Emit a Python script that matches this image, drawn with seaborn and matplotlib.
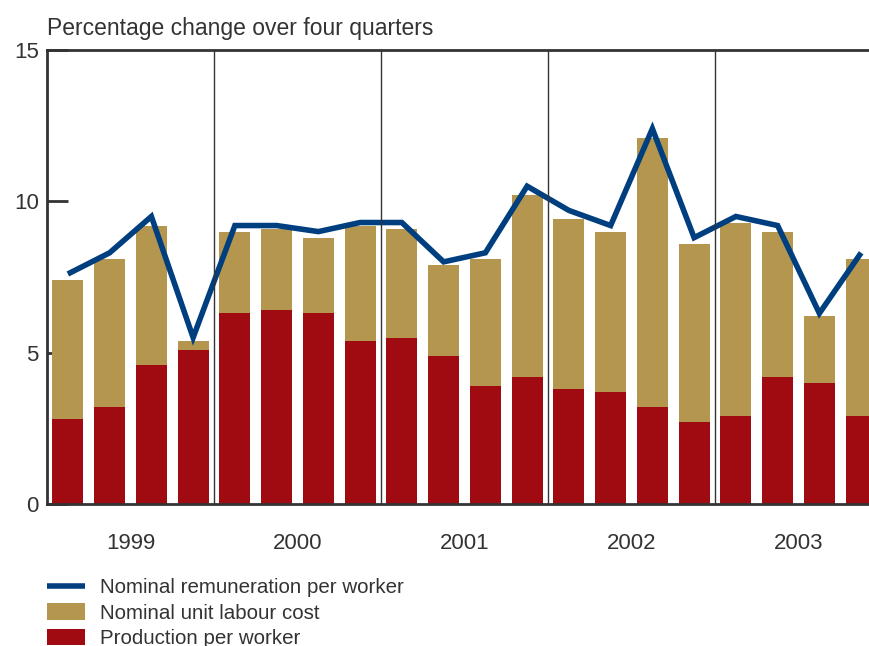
import numpy as np
import pandas as pd
import seaborn as sns
import matplotlib.pyplot as plt
from matplotlib.lines import Line2D
from matplotlib.patches import Patch

# Data (percentage change over four quarters)
quarters = [f"{y}Q{q}" for y in range(1999, 2004) for q in range(1, 5)]
years = ["1999", "2000", "2001", "2002", "2003"]
production = [2.8, 3.2, 4.6, 5.1, 6.3, 6.4, 6.3, 5.4, 5.5, 4.9,
              3.9, 4.2, 3.8, 3.7, 3.2, 2.7, 2.9, 4.2, 4.0, 2.9]
unit_labour_cost = [4.6, 4.9, 4.6, 0.3, 2.7, 2.7, 2.5, 3.8, 3.6, 3.0,
                    4.2, 6.0, 5.6, 5.3, 8.9, 5.9, 6.4, 4.8, 2.2, 5.2]
remuneration = [7.6, 8.3, 9.5, 5.5, 9.2, 9.2, 9.0, 9.3, 9.3, 8.0,
                8.3, 10.5, 9.7, 9.2, 12.4, 8.8, 9.5, 9.2, 6.3, 8.3]

TAN = "#b5964f"
RED = "#a00b12"
BLUE = "#003f7f"
TEXT = "#333333"

sns.set_theme(style="white")
plt.rcParams['font.family'] = ['Liberation Sans', 'DejaVu Sans']

df = pd.DataFrame({
    'quarter': quarters,
    'production': production,
    'ulc': unit_labour_cost,
    'remuneration': remuneration,
})
df['total'] = df['production'] + df['ulc']

fig = plt.figure(figsize=(8.7, 6.46), dpi=100)
# axes runs past the right edge of the figure, as in the original
ax = fig.add_axes([47 / 870, 1 - 504 / 646, 835 / 870, 454 / 646])

# stacked bars: total in tan, production on top in red
sns.barplot(data=df, x='quarter', y='total', color=TAN, saturation=1,
            width=0.74, linewidth=0, ax=ax)
sns.barplot(data=df, x='quarter', y='production', color=RED, saturation=1,
            width=0.74, linewidth=0, ax=ax)
sns.lineplot(x=np.arange(len(quarters)), y=df['remuneration'], color=BLUE,
             lw=4, ax=ax, solid_joinstyle='miter', solid_capstyle='butt')

# year separators
for xv in [3.5, 7.5, 11.5, 15.5]:
    ax.axvline(xv, color=TEXT, lw=1, zorder=3)

ax.set_xlim(-0.5, 19.5)
ax.set_ylim(0, 15)
ax.set_yticks([0, 5, 10, 15])
ax.set_xticks([1.5, 5.5, 9.5, 13.5, 17.5])
ax.set_xticklabels(years)
ax.set_xlabel("")
ax.set_ylabel("")
ax.tick_params(axis='y', direction='in', length=15, width=2, color=TEXT,
               pad=6, labelsize=16, labelcolor=TEXT, left=True)
ax.tick_params(axis='x', length=0, pad=21, labelsize=16, labelcolor=TEXT)

for side in ['left', 'bottom', 'top']:
    ax.spines[side].set_visible(True)
    ax.spines[side].set_color(TEXT)
    ax.spines[side].set_linewidth(2)
ax.spines['right'].set_visible(False)

fig.text(47 / 870, 1 - 28 / 646, "Percentage change over four quarters",
         fontsize=16.5, color=TEXT, va='center', ha='left')

handles = [
    Line2D([0], [0], color=BLUE, lw=4, solid_capstyle='butt'),
    Patch(facecolor=TAN, edgecolor='none'),
    Patch(facecolor=RED, edgecolor='none'),
]
labels = ["Nominal remuneration per worker", "Nominal unit labour cost",
          "Production per worker"]
fig.legend(handles, labels, loc='upper left',
           bbox_to_anchor=(47 / 870, 1 - 578 / 646), frameon=False,
           fontsize=14.8, labelcolor=TEXT, handlelength=1.85,
           handleheight=0.85, handletextpad=0.72, labelspacing=0.3,
           borderpad=0, borderaxespad=0)

fig.savefig("out.png", dpi=100)
